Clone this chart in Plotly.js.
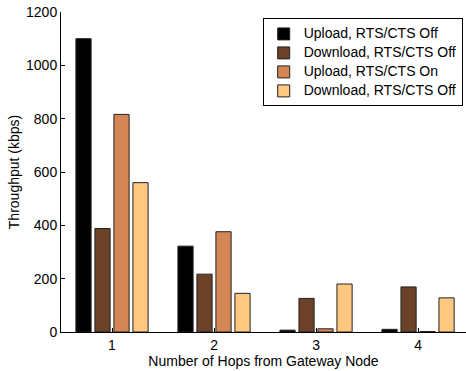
<!DOCTYPE html>
<html>
<head>
<meta charset="utf-8">
<script src="https://cdn.plot.ly/plotly-3.0.1.min.js"></script>
<style>html,body{margin:0;padding:0;background:#fff;}#chart{width:466px;height:371px;}</style>
</head>
<body>
<div id="chart"></div>
<script>
const hops = [1, 2, 3, 4];
const seriesNames = ["Upload, RTS/CTS Off", "Download, RTS/CTS Off", "Upload, RTS/CTS On", "Download, RTS/CTS Off"];
const uploadOff = [1100, 322, 7, 10];
const downloadOff = [388, 217, 126, 169];
const uploadOn = [816, 376, 12, 2];
const downloadOff2 = [560, 145, 180, 128];
const colors = ["#000000", "#6B4228", "#D48755", "#FFC880"];
const values = [uploadOff, downloadOff, uploadOn, downloadOff2];

const traces = values.map((v, i) => ({
  type: "bar",
  x: hops,
  y: v,
  name: '<span style="font-size:14px">' + seriesNames[i] + '</span>',
  marker: {color: colors[i], line: {color: "#222", width: 1}},
  hoverinfo: "none"
}));

const font = {family: "Liberation Sans, Arial, sans-serif", size: 14, color: "#000"};
const layout = {
  width: 466, height: 371,
  margin: {l: 61, r: 0, t: 12, b: 39},
  paper_bgcolor: "#fff", plot_bgcolor: "#fff",
  font: font,
  barmode: "group",
  bargap: 0.255,
  bargroupgap: 0.2,
  showlegend: true,
  legend: {
    x: 0.498, y: 0.98, xanchor: "left", yanchor: "top",
    bgcolor: "#fff", bordercolor: "#000", borderwidth: 1,
    font: {family: "Liberation Sans, Arial, sans-serif", size: 11, color: "#000"},
    tracegroupgap: 0, itemwidth: 30, traceorder: "normal"
  },
  xaxis: {
    range: [0.5, 4.47], tickvals: hops, ticktext: hops.map(String),
    showline: true, linecolor: "#000", linewidth: 1,
    ticks: "inside", ticklen: 4, tickcolor: "#000",
    showgrid: false, zeroline: false,
    title: {text: "Number of Hops from Gateway Node", font: font, standoff: 0}
  },
  yaxis: {
    range: [0, 1200], tickvals: [0, 200, 400, 600, 800, 1000, 1200],
    showline: true, linecolor: "#000", linewidth: 1,
    ticks: "inside", ticklen: 4, tickcolor: "#000",
    showgrid: false, zeroline: false,
    title: {text: "Throughput (kbps)", font: font, standoff: 3}
  }
};
Plotly.newPlot("chart", traces, layout, {displayModeBar: false, staticPlot: true});
</script>
</body>
</html>
